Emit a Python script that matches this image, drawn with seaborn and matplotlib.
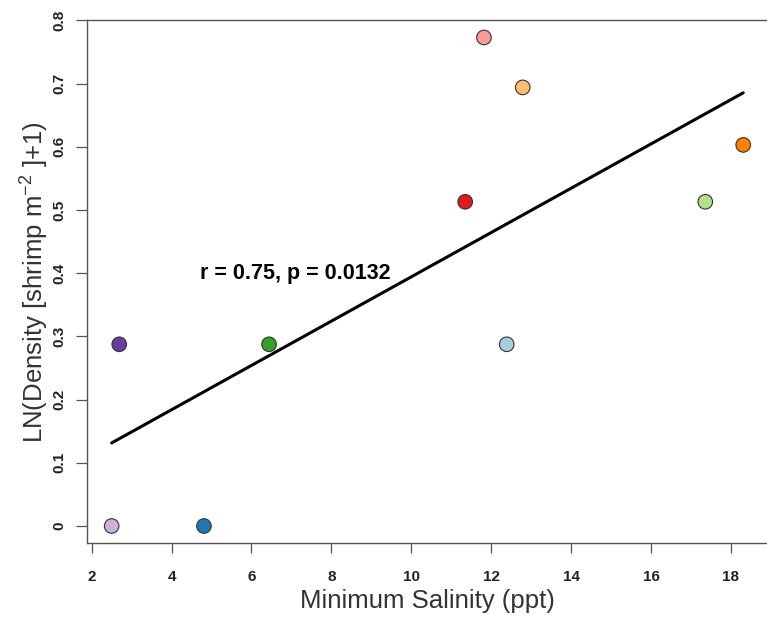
import matplotlib
matplotlib.use("Agg")
import matplotlib.pyplot as plt
import pandas as pd
import seaborn as sns

#################### CONFIG ####################
sns.set_style("ticks")
plt.rcParams["font.family"] = ["Liberation Sans", "DejaVu Sans"]
plt.rcParams["mathtext.fontset"] = "custom"
plt.rcParams["mathtext.rm"] = "Liberation Sans"
plt.rcParams["mathtext.it"] = "Liberation Sans:italic"

SPINE = "#555555"
TEXT = "#222222"

#################### Data ####################
sites = ["S1", "S2", "S3", "S4", "S5", "S6", "S7", "S8", "S9", "S10"]
min_salinity = [12.39, 4.81, 17.36, 6.44, 11.82, 11.35, 12.79, 18.31, 2.50, 2.69]
ln_density = [0.2875, 0.0, 0.513, 0.2875, 0.773, 0.513, 0.694, 0.603, 0.0, 0.2875]

df = pd.DataFrame({"site": sites, "salinity": min_salinity, "density": ln_density})
palette = sns.color_palette("Paired", 10)

#################### Plot ####################
fig = plt.figure(figsize=(7.67, 6.22), dpi=100)
ax = fig.add_axes([0.1138, 0.1265, 0.8875, 0.8413])

sns.regplot(
    data=df, x="salinity", y="density", scatter=False, ci=None,
    color="black", line_kws={"linewidth": 2.2}, ax=ax,
)
sns.scatterplot(
    data=df, x="salinity", y="density", hue="site", palette=palette,
    s=110, edgecolor="#333333", linewidth=0.8, legend=False, ax=ax, zorder=5,
)

ax.text(7.1, 0.40, "r = 0.75, p = 0.0132", ha="center", va="center",
        fontsize=15.5, weight="bold", color="black")

ax.set_xlim(1.89, 18.93)
ax.set_ylim(-0.0274, 0.8006)
ax.set_xticks(range(2, 19, 2))
ax.set_yticks([0, 0.1, 0.2, 0.3, 0.4, 0.5, 0.6, 0.7, 0.8])
ax.set_yticklabels(["0", "0.1", "0.2", "0.3", "0.4", "0.5", "0.6", "0.7", "0.8"],
                   rotation=90, va="center")

ax.tick_params(axis="x", length=7, width=0.9, color=SPINE, pad=12,
               labelsize=11, labelcolor=TEXT)
ax.tick_params(axis="y", length=8, width=0.9, color=SPINE, pad=7,
               labelsize=11, labelcolor=TEXT)
for label in ax.get_xticklabels() + ax.get_yticklabels():
    label.set_weight("bold")

for side in ["left", "bottom", "top"]:
    ax.spines[side].set_color(SPINE)
    ax.spines[side].set_linewidth(1.0)
ax.spines["right"].set_visible(False)

ax.set_xlabel("Minimum Salinity (ppt)", fontsize=18.5, color="#333333", labelpad=4)
ax.set_ylabel(r"LN(Density [shrimp m$^{-2}$ ]+1)", fontsize=18.5, color="#333333",
              labelpad=1)

fig.savefig("out.png", dpi=100, facecolor="white")
